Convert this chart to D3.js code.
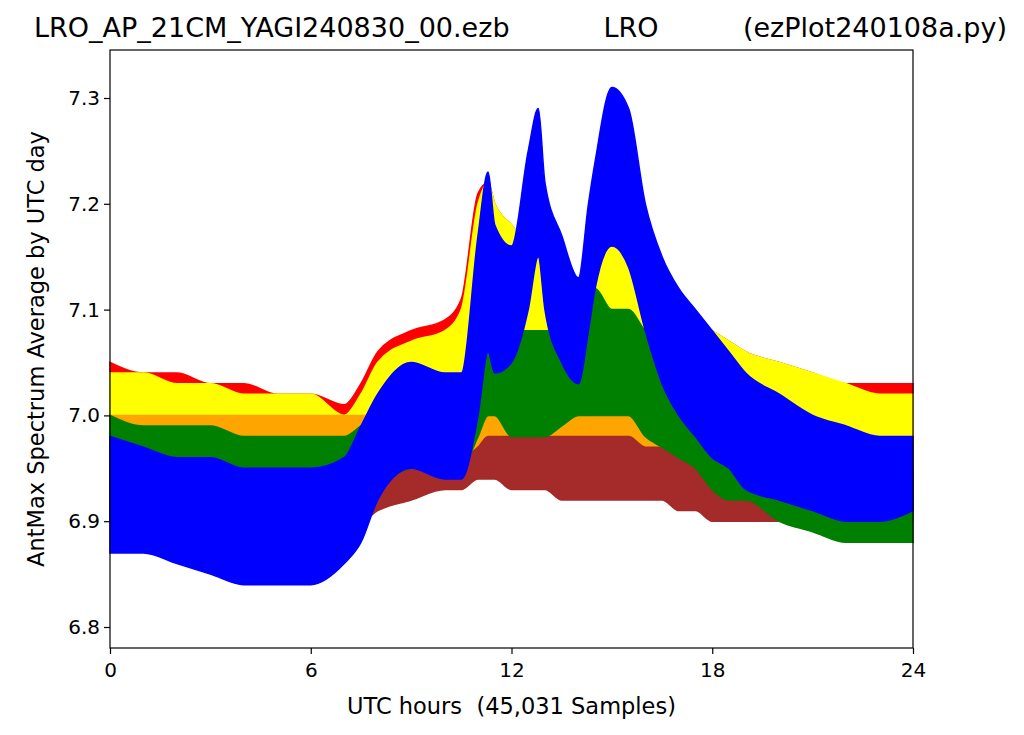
<!DOCTYPE html>
<html><head><meta charset="utf-8">
<script src="https://cdn.jsdelivr.net/npm/d3@7"></script>
<style>body{margin:0;background:#fff}svg{font-family:"DejaVu Sans",sans-serif}</style>
</head><body><svg id="c" width="1024" height="735"></svg>
<script>
const hours=[0,1,2,3,4,5,6,7,7.5,8,9,10,10.5,11,11.3,11.5,12,12.5,12.8,13,13.5,14,14.3,14.5,15,15.5,16,16.5,17,17.5,18,18.5,19,20,21,22,23,24];
const redLow   =[6.92,6.92,6.92,6.92,6.92,6.92,6.92,6.92,6.93,6.95,6.96,6.96,6.97,7.04,7.08,7.08,7.05,7.05,7.05,7.05,7.03,7.02,7.04,7.06,7.10,7.10,7.05,7.01,6.99,6.98,6.97,6.97,6.96,6.95,6.95,6.94,6.95,6.95];
const redHigh  =[7.05,7.04,7.04,7.03,7.03,7.02,7.02,7.01,7.03,7.06,7.08,7.09,7.11,7.21,7.22,7.20,7.18,7.16,7.15,7.15,7.12,7.10,7.14,7.17,7.20,7.20,7.16,7.13,7.10,7.09,7.08,7.07,7.06,7.05,7.04,7.03,7.03,7.03];
const yellowLow=[6.92,6.92,6.92,6.92,6.92,6.92,6.92,6.92,6.93,6.95,6.96,6.96,6.97,7.04,7.08,7.08,7.05,7.05,7.05,7.05,7.03,7.02,7.04,7.06,7.10,7.10,7.05,7.01,6.99,6.98,6.97,6.97,6.96,6.95,6.95,6.94,6.95,6.95];
const yellowHigh=[7.04,7.04,7.03,7.03,7.02,7.02,7.02,7.00,7.02,7.05,7.07,7.08,7.10,7.20,7.22,7.20,7.18,7.16,7.15,7.15,7.12,7.10,7.14,7.17,7.20,7.20,7.16,7.13,7.10,7.09,7.08,7.07,7.06,7.05,7.04,7.03,7.02,7.02];
const orangeLow=[6.93,6.93,6.93,6.93,6.93,6.93,6.93,6.92,6.92,6.93,6.93,6.93,6.94,6.95,6.96,6.96,6.97,6.97,6.96,6.96,6.96,6.96,6.96,6.96,6.96,6.96,6.96,6.95,6.94,6.94,6.93,6.93,6.92,6.92,6.92,6.92,6.92,6.92];
const orangeHigh=[7.00,7.00,7.00,7.00,7.00,7.00,7.00,7.00,7.00,7.00,7.00,7.00,7.00,7.03,7.04,7.04,7.05,7.05,7.04,7.03,7.03,7.03,7.03,7.03,7.02,7.02,7.03,7.02,7.00,6.99,6.98,6.98,6.97,6.97,6.97,6.97,6.97,6.97];
const brownLow =[6.90,6.90,6.90,6.90,6.90,6.90,6.90,6.90,6.90,6.91,6.92,6.93,6.93,6.94,6.94,6.94,6.93,6.93,6.93,6.93,6.92,6.92,6.92,6.92,6.92,6.92,6.92,6.92,6.91,6.91,6.90,6.90,6.90,6.90,6.90,6.90,6.90,6.90];
const brownHigh=[6.95,6.95,6.95,6.95,6.95,6.95,6.95,6.95,6.95,6.95,6.96,6.96,6.96,6.97,6.98,6.98,6.98,6.98,6.98,6.98,6.98,6.98,6.98,6.98,6.98,6.98,6.97,6.97,6.97,6.96,6.96,6.96,6.96,6.95,6.95,6.95,6.95,6.95];
const greenLow =[6.90,6.90,6.90,6.90,6.90,6.90,6.90,6.90,6.92,6.93,6.95,6.95,6.95,6.98,7.00,7.00,6.98,6.98,6.98,6.98,6.99,7.00,7.00,7.00,7.00,7.00,6.98,6.97,6.96,6.95,6.93,6.92,6.92,6.90,6.89,6.88,6.88,6.88];
const greenHigh=[7.00,6.99,6.99,6.99,6.98,6.98,6.98,6.98,6.99,7.00,7.03,7.03,7.03,7.10,7.13,7.12,7.08,7.08,7.08,7.08,7.08,7.10,7.11,7.12,7.10,7.10,7.08,7.07,7.06,7.04,7.02,7.01,7.00,6.98,6.97,6.95,6.94,6.93];
const blueLow  =[6.87,6.87,6.86,6.85,6.84,6.84,6.84,6.86,6.88,6.92,6.95,6.94,6.94,7.00,7.06,7.04,7.05,7.10,7.15,7.10,7.05,7.03,7.08,7.12,7.16,7.14,7.08,7.03,7.00,6.98,6.96,6.95,6.93,6.92,6.91,6.90,6.90,6.91];
const blueHigh =[6.98,6.97,6.96,6.96,6.95,6.95,6.95,6.96,6.99,7.02,7.05,7.04,7.04,7.17,7.23,7.18,7.16,7.25,7.29,7.22,7.17,7.13,7.20,7.24,7.31,7.29,7.20,7.15,7.12,7.10,7.08,7.06,7.04,7.02,7.00,6.99,6.98,6.98];
const series=[
 {c:"red",lo:redLow,hi:redHigh},{c:"yellow",lo:yellowLow,hi:yellowHigh},
 {c:"orange",lo:orangeLow,hi:orangeHigh},{c:"brown",lo:brownLow,hi:brownHigh},
 {c:"green",lo:greenLow,hi:greenHigh},{c:"blue",lo:blueLow,hi:blueHigh}];
const xTicks=[0,6,12,18,24], yTicks=[6.8,6.9,7.0,7.1,7.2,7.3];
const svg=d3.select("#c");
const L=110,R=913,T=50,B=648;
const x=d3.scaleLinear().domain([0,24]).range([L,R]);
const y=d3.scaleLinear().domain([6.8,7.3]).range([627,98]);
const g=svg.append("g");
series.forEach(s=>{
  const d=hours.map((h,i)=>({h,lo:s.lo[i],hi:s.hi[i]}));
  g.append("path").datum(d).attr("fill",s.c).attr("stroke",s.c).attr("stroke-width",1.5)
   .attr("d",d3.area().x(p=>x(p.h)).y0(p=>y(p.lo)).y1(p=>y(p.hi)).curve(d3.curveMonotoneX));
});
svg.append("rect").attr("x",L).attr("y",T).attr("width",R-L).attr("height",B-T).attr("fill","none").attr("stroke","#000").attr("stroke-width",1.2);
const xa=svg.append("g").attr("transform",`translate(0,${B})`).call(d3.axisBottom(x).tickValues(xTicks).tickSize(6).tickFormat(d3.format("d")));
const ya=svg.append("g").attr("transform",`translate(${L},0)`).call(d3.axisLeft(y).tickValues(yTicks).tickSize(6).tickFormat(d3.format(".1f")));
[xa,ya].forEach(a=>{a.select(".domain").remove();a.selectAll("line").attr("stroke-width",1.2);a.selectAll("text").attr("font-size",20).attr("fill","#000").attr("font-family","DejaVu Sans");});
xa.selectAll("text").attr("dy","1.0em");
ya.selectAll("text").attr("x",-10);
svg.append("text").attr("x",(L+R)/2).attr("y",714).attr("text-anchor","middle").attr("font-size",22.5).attr("xml:space","preserve").style("white-space","pre").text("UTC hours  (45,031 Samples)");
svg.append("text").attr("transform",`translate(44,${(T+B)/2}) rotate(-90)`).attr("text-anchor","middle").attr("font-size",22.5).text("AntMax Spectrum Average by UTC day");
svg.append("text").attr("x",34).attr("y",37).attr("font-size",27).text("LRO_AP_21CM_YAGI240830_00.ezb");
svg.append("text").attr("x",631).attr("y",37).attr("text-anchor","middle").attr("font-size",27).text("LRO");
svg.append("text").attr("x",1007).attr("y",37).attr("text-anchor","end").attr("font-size",27).text("(ezPlot240108a.py)");
</script></body></html>
